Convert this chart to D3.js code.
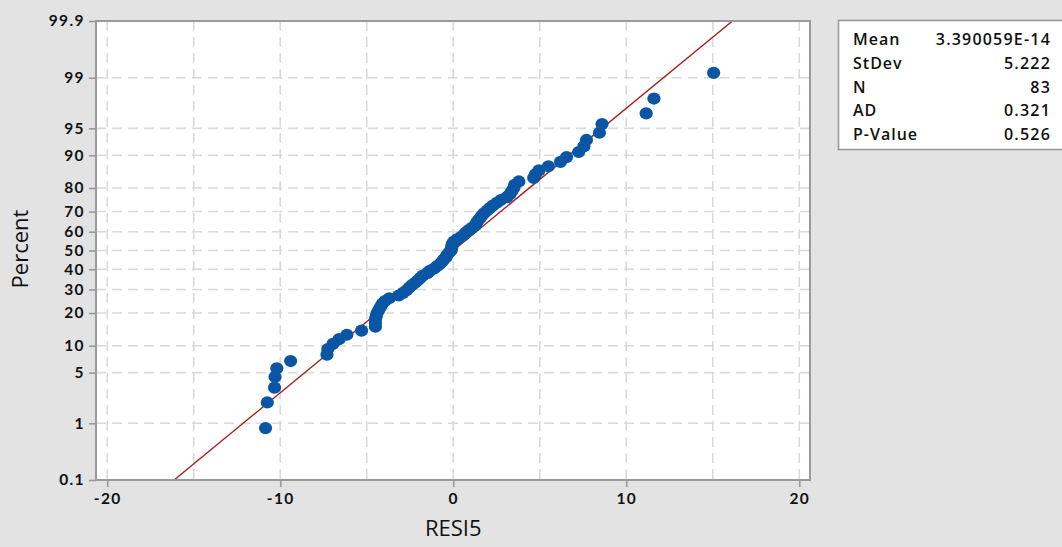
<!DOCTYPE html>
<html>
<head>
<meta charset="utf-8">
<script src="https://cdn.jsdelivr.net/npm/d3@7"></script>
<style>
  html, body { margin: 0; padding: 0; background: #e3e3e3; }
  svg { display: block; }
  text { font-family: "Open Sans", "DejaVu Sans", sans-serif; fill: #111; }
</style>
</head>
<body>
<svg id="chart" width="1062" height="547"></svg>
<script>
// Residuals (RESI5), sorted ascending
const residuals = [
  -10.85, -10.75, -10.33, -10.30, -10.20, -9.40,
  -7.30, -7.25, -6.95, -6.60, -6.15, -5.30,
  -4.50, -4.50, -4.50, -4.45, -4.40, -4.30,
  -4.20, -4.10, -3.95, -3.70, -3.15, -2.90, -2.70, -2.55, -2.40, -2.20,
  -2.05, -1.90, -1.75, -1.50, -1.35, -1.10, -0.95, -0.77, -0.65, -0.55,
  -0.42, -0.36, -0.25, -0.13,
  -0.10, -0.08, -0.05, 0.04, 0.21, 0.44, 0.62, 0.73, 0.90, 1.08,
  1.28, 1.34, 1.42, 1.54, 1.65, 1.77, 1.94, 2.11, 2.29, 2.52, 2.75, 3.10,
  3.27, 3.38, 3.50, 3.55, 3.79, 4.65, 4.75, 4.95, 5.50, 6.20, 6.55,
  7.25, 7.55, 7.70, 8.45, 8.60, 11.15, 11.60, 15.05
];

// Fitted normal line parameters
const fitMean = 3.390059e-14;
const fitStDev = 5.222;

// Axis ticks
const percentTicks = [0.1, 1, 5, 10, 20, 30, 40, 50, 60, 70, 80, 90, 95, 99, 99.9];
const percentTickLabels = ["0.1", "1", "5", "10", "20", "30", "40", "50", "60", "70", "80", "90", "95", "99", "99.9"];
const percentGrid = [1, 5, 10, 20, 30, 40, 50, 60, 70, 80, 90, 95, 99];
const xTicks = [-20, -10, 0, 10, 20];
const xGrid = [-20, -15, -10, -5, 0, 5, 10, 15, 20];

// Summary table
const statLabels = ["Mean", "StDev", "N", "AD", "P-Value"];
const statValues = ["3.390059E-14", "5.222", "83", "0.321", "0.526"];

// Inverse standard normal CDF (Acklam's rational approximation)
function qnorm(p) {
  const a = [-3.969683028665376e+01, 2.209460984245205e+02, -2.759285104469687e+02,
             1.383577518672690e+02, -3.066479806614716e+01, 2.506628277459239e+00];
  const b = [-5.447609879822406e+01, 1.615858368580409e+02, -1.556989798598866e+02,
             6.680131188771972e+01, -1.328068155288572e+01];
  const c = [-7.784894002430293e-03, -3.223964580411365e-01, -2.400758277161838e+00,
             -2.549732539343734e+00, 4.374664141464968e+00, 2.938163982698783e+00];
  const d = [7.784695709041462e-03, 3.224671290700398e-01, 2.445134137142996e+00,
             3.754408661907416e+00];
  const pl = 0.02425, ph = 1 - pl;
  let q, r;
  if (p < pl) {
    q = Math.sqrt(-2 * Math.log(p));
    return (((((c[0]*q+c[1])*q+c[2])*q+c[3])*q+c[4])*q+c[5]) /
           ((((d[0]*q+d[1])*q+d[2])*q+d[3])*q+1);
  }
  if (p <= ph) {
    q = p - 0.5; r = q * q;
    return (((((a[0]*r+a[1])*r+a[2])*r+a[3])*r+a[4])*r+a[5])*q /
           (((((b[0]*r+b[1])*r+b[2])*r+b[3])*r+b[4])*r+1);
  }
  q = Math.sqrt(-2 * Math.log(1 - p));
  return -(((((c[0]*q+c[1])*q+c[2])*q+c[3])*q+c[4])*q+c[5]) /
          ((((d[0]*q+d[1])*q+d[2])*q+d[3])*q+1);
}

const svg = d3.select("#chart");
const plot = { left: 96, top: 21, right: 810, bottom: 480 };

const x = d3.scaleLinear().domain([-20.65, 20.62]).range([plot.left, plot.right]);
// Probability axis: linear in normal score
const zMax = qnorm(0.999);
const yz = d3.scaleLinear().domain([-zMax, zMax]).range([plot.bottom, plot.top]);
const yPct = pct => yz(qnorm(pct / 100));

// Plot area
svg.append("rect")
  .attr("x", plot.left).attr("y", plot.top)
  .attr("width", plot.right - plot.left).attr("height", plot.bottom - plot.top)
  .attr("fill", "#ffffff");

// Grid
const grid = svg.append("g").attr("stroke", "#dadada").attr("stroke-width", 1.6)
  .attr("stroke-dasharray", "10,6").attr("fill", "none");
grid.selectAll("line.v").data(xGrid).join("line").attr("class", "v")
  .attr("x1", d => x(d)).attr("x2", d => x(d))
  .attr("y1", plot.top).attr("y2", plot.bottom);
grid.selectAll("line.h").data(percentGrid).join("line").attr("class", "h")
  .attr("y1", d => yPct(d)).attr("y2", d => yPct(d))
  .attr("x1", plot.left).attr("x2", plot.right);

// Clip for fitted line
svg.append("clipPath").attr("id", "plotClip").append("rect")
  .attr("x", plot.left).attr("y", plot.top)
  .attr("width", plot.right - plot.left).attr("height", plot.bottom - plot.top);

// Fitted normal line: x = mean + z * sd
const fitPcts = [0.1, 99.9];
svg.append("path")
  .datum(fitPcts)
  .attr("clip-path", "url(#plotClip)")
  .attr("fill", "none")
  .attr("stroke", "#a3231f")
  .attr("stroke-width", 1.4)
  .attr("d", d3.line()
    .x(p => x(fitMean + qnorm(p / 100) * fitStDev))
    .y(p => yPct(p)));

// Points at median-rank plotting positions
const n = residuals.length;
const pts = residuals.map((v, i) => ({ v, pct: 100 * (i + 1 - 0.3) / (n + 0.4) }));
svg.append("g").selectAll("ellipse").data(pts).join("ellipse")
  .attr("cx", d => x(d.v))
  .attr("cy", d => yPct(d.pct))
  .attr("rx", 6.6).attr("ry", 6.1)
  .attr("fill", "#0b56a4");

// Frame
svg.append("rect")
  .attr("x", plot.left).attr("y", plot.top)
  .attr("width", plot.right - plot.left).attr("height", plot.bottom - plot.top)
  .attr("fill", "none").attr("stroke", "#9a9a9a").attr("stroke-width", 2);

// Axes
const xAxis = svg.append("g")
  .attr("transform", `translate(0,${plot.bottom})`)
  .call(d3.axisBottom(x).tickValues(xTicks).tickFormat(d => String(d)).tickSize(7).tickPadding(6));
const yAxis = svg.append("g")
  .attr("transform", `translate(${plot.left},0)`)
  .call(d3.axisLeft(yz)
    .tickValues(percentTicks.map(p => qnorm(p / 100)))
    .tickFormat((d, i) => percentTickLabels[i])
    .tickSize(7).tickPadding(4));
[xAxis, yAxis].forEach(g => {
  g.select(".domain").remove();
  g.selectAll(".tick line").attr("stroke", "#9a9a9a").attr("stroke-width", 1.6);
  g.selectAll(".tick text")
    .style("font-family", "Lato, 'Open Sans', sans-serif")
    .style("font-size", "15.5px").style("font-weight", 700)
    .style("letter-spacing", "1.4px")
    .attr("fill", "#111");
});

// Axis titles
svg.append("text")
  .attr("x", x(0)).attr("y", 536)
  .attr("text-anchor", "middle")
  .style("font-size", "22px").style("font-weight", 400)
  .attr("fill", "#000")
  .text("RESI5");
svg.append("text")
  .attr("transform", "translate(28,249) rotate(-90)")
  .attr("text-anchor", "middle")
  .style("font-size", "22px").style("font-weight", 400)
  .attr("fill", "#000")
  .text("Percent");

// Summary table
const box = svg.append("g");
box.append("rect")
  .attr("x", 838.5).attr("y", 20.5).attr("width", 240).attr("height", 129)
  .attr("fill", "#ffffff").attr("stroke", "#9a9a9a").attr("stroke-width", 1.6);
const rowY = d3.scaleLinear().domain([0, statLabels.length - 1]).range([45, 140]);
box.selectAll("text.lbl").data(statLabels).join("text").attr("class", "lbl")
  .attr("x", 853).attr("y", (d, i) => rowY(i))
  .style("font-size", "16px").style("font-weight", 600).style("letter-spacing", "1px")
  .text(d => d);
box.selectAll("text.val").data(statValues).join("text").attr("class", "val")
  .attr("x", 1051).attr("y", (d, i) => rowY(i))
  .attr("text-anchor", "end")
  .style("font-size", "16px").style("font-weight", 600).style("letter-spacing", "1.2px")
  .text(d => d);
</script>
</body>
</html>
